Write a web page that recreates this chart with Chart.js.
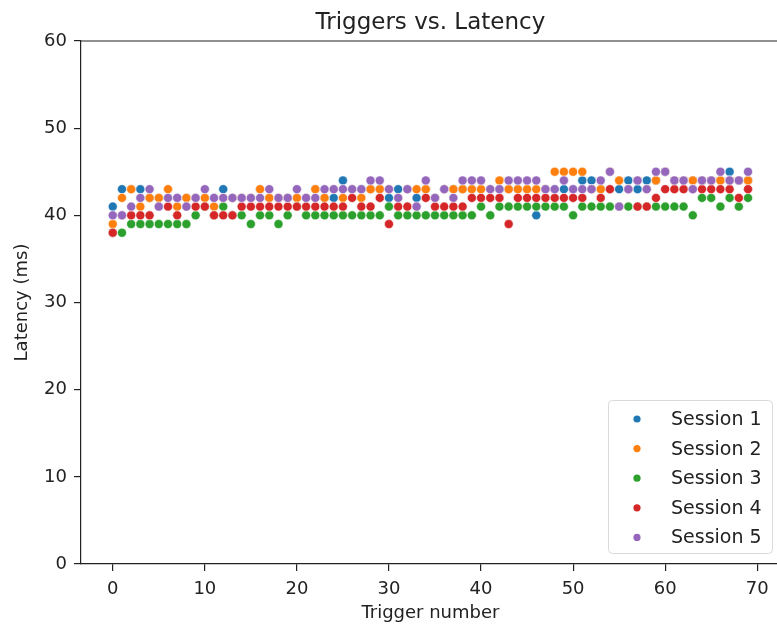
<!DOCTYPE html>
<html>
<head>
<meta charset="utf-8">
<title>Triggers vs. Latency</title>
<script src="https://cdn.jsdelivr.net/npm/chart.js@4.4.1/dist/chart.umd.min.js"></script>
<style>
  html, body { margin: 0; padding: 0; background: #fff; overflow: hidden; }
  #wrap { position: absolute; left: 0; top: 0; width: 785px; height: 628px; }
</style>
</head>
<body>
<div id="wrap"><canvas id="myChart" width="785" height="628"></canvas></div>
<script>
// values (hidden points guessed where they sit under others)
const chartTitle = 'Triggers vs. Latency';
const xTitle = 'Trigger number';
const yTitle = 'Latency (ms)';
const seriesNames = ['Session 1', 'Session 2', 'Session 3', 'Session 4', 'Session 5'];
const seriesColors = ['#1f77b4', '#ff7f0e', '#2ca02c', '#d62728', '#9467bd'];

const triggers = [0,1,2,3,4,5,6,7,8,9,10,11,12,13,14,15,16,17,18,19,
                  20,21,22,23,24,25,26,27,28,29,30,31,32,33,34,35,36,37,38,39,
                  40,41,42,43,44,45,46,47,48,49,50,51,52,53,54,55,56,57,58,59,
                  60,61,62,63,64,65,66,67,68,69];

const session1 = [41,43,43,43,42,42,42,42,42,42, 42,42,43,42,42,42,43,42,42,42,
                  42,42,43,42,42,44,43,43,43,43, 42,43,43,42,43,42,43,43,43,43,
                  43,43,43,43,43,43,40,43,43,43, 43,44,44,43,43,43,44,43,44,44,
                  45,44,44,44,44,44,44,45,44,44];
const session2 = [39,42,43,41,42,42,43,41,42,42, 42,41,42,42,42,42,43,42,42,42,
                  42,42,43,42,43,42,43,42,43,43, 43,42,43,43,43,42,43,43,43,43,
                  43,43,44,43,43,43,43,43,45,45, 45,45,43,43,45,44,43,44,43,44,
                  45,44,44,44,44,44,44,44,44,44];
const session3 = [38,38,39,39,39,39,39,39,39,40, 41,40,41,40,40,39,40,40,39,40,
                  41,40,40,40,40,40,40,40,40,40, 41,40,40,40,40,40,40,40,40,40,
                  41,40,41,41,41,41,41,41,41,41, 40,41,41,41,41,41,41,41,41,41,
                  41,41,41,40,42,42,41,42,41,42];
const session4 = [38,40,40,40,40,41,41,40,41,41, 41,40,40,40,41,41,41,41,41,41,
                  41,41,41,41,41,41,42,41,41,42, 39,41,41,41,42,41,41,41,41,42,
                  42,42,42,39,42,42,42,42,42,42, 42,42,43,42,43,41,43,41,41,42,
                  43,43,43,43,43,43,43,43,42,43];
const session5 = [40,40,41,42,43,41,42,42,41,42, 43,42,42,42,42,42,42,43,42,42,
                  43,42,42,43,43,43,43,43,44,44, 43,42,43,41,44,42,43,42,44,44,
                  44,43,43,44,44,44,44,43,43,44, 43,43,43,44,45,41,43,44,43,45,
                  45,44,44,43,44,44,45,44,44,45];
const allSessions = [session1, session2, session3, session4, session5];

const xTicks = [0, 10, 20, 30, 40, 50, 60, 70];
const yTicks = [0, 10, 20, 30, 40, 50, 60];

const FONT = 'DejaVu Sans';
const INK = '#222';

const datasets = allSessions.map((vals, k) => ({
    label: seriesNames[k],
    data: vals.map((v, i) => ({ x: triggers[i], y: v })),
    backgroundColor: seriesColors[k],
    borderColor: 'rgba(255,255,255,0.75)',
    borderWidth: 0.7,
    pointRadius: 4.5,
    pointHoverRadius: 4.5,
    order: allSessions.length - k   // later sessions end up on top
}));

// title, top spine and the boxed legend (lower right, like matplotlib)
const extras = {
    id: 'extras',
    afterDraw(chart) {
        const ctx = chart.ctx;
        const a = chart.chartArea;
        ctx.save();
        ctx.strokeStyle = INK;
        ctx.lineWidth = 1.2;
        ctx.beginPath();
        ctx.moveTo(a.left, a.top);
        ctx.lineTo(a.right, a.top);
        ctx.lineTo(a.right, a.bottom);
        ctx.stroke();

        ctx.fillStyle = INK;
        ctx.font = '23px "' + FONT + '"';
        ctx.textAlign = 'center';
        ctx.textBaseline = 'alphabetic';
        ctx.fillText(chartTitle, (a.left + a.right) / 2, 29);

        // legend box
        const bx = 608, by = 400, bw = 164, bh = 153;
        ctx.beginPath();
        ctx.roundRect(bx + 0.5, by + 0.5, bw, bh, 4);
        ctx.fillStyle = 'rgba(255,255,255,0.8)';
        ctx.fill();
        ctx.strokeStyle = '#d9d9d9';
        ctx.lineWidth = 1;
        ctx.stroke();

        ctx.font = '19px "' + FONT + '"';
        ctx.textAlign = 'left';
        ctx.textBaseline = 'middle';
        seriesNames.forEach((name, k) => {
            const ry = 419 + k * 29.6;
            ctx.beginPath();
            ctx.arc(637, ry, 3.6, 0, Math.PI * 2);
            ctx.fillStyle = seriesColors[k];
            ctx.fill();
            ctx.fillStyle = INK;
            ctx.fillText(name, 671, ry + 1);
        });
        ctx.restore();
    }
};

const ctx = document.getElementById('myChart').getContext('2d');
const myChart = new Chart(ctx, {
    type: 'scatter',
    data: { datasets },
    options: {
        responsive: false,
        animation: false,
        devicePixelRatio: 1,
        layout: { padding: { top: 41, left: 0, right: 5, bottom: 0 } },
        plugins: {
            legend: { display: false },
            title: { display: false },
            tooltip: { enabled: false }
        },
        scales: {
            x: {
                type: 'linear',
                min: -3.45,
                max: 72.45,
                afterFit: s => { s.height = 64; },
                afterBuildTicks: s => { s.ticks = xTicks.map(v => ({ value: v })); },
                grid: { drawOnChartArea: false, drawTicks: true, tickLength: 7, color: INK, lineWidth: 1.2 },
                border: { display: true, color: INK, width: 1.2 },
                ticks: { color: INK, font: { family: FONT, size: 18 }, padding: 8, maxRotation: 0 },
                title: { display: true, text: xTitle, color: INK, font: { family: FONT, size: 18 },
                         padding: { top: 4, bottom: 4 } }
            },
            y: {
                type: 'linear',
                min: 0,
                max: 60,
                afterFit: s => { s.width = 81; },
                afterBuildTicks: s => { s.ticks = yTicks.map(v => ({ value: v })); },
                grid: { drawOnChartArea: false, drawTicks: true, tickLength: 7, color: INK, lineWidth: 1.2 },
                border: { display: true, color: INK, width: 1.2 },
                ticks: { color: INK, font: { family: FONT, size: 18 }, padding: 7 },
                title: { display: true, text: yTitle, color: INK, font: { family: FONT, size: 18 },
                         padding: { top: 12, bottom: 4 } }
            }
        }
    },
    plugins: [extras]
});
</script>
</body>
</html>
